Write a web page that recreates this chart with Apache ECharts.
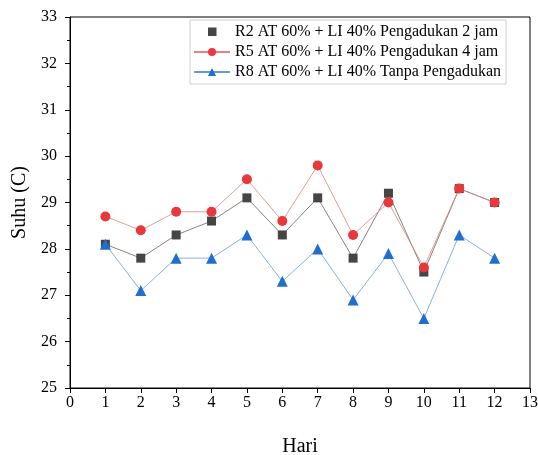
<!DOCTYPE html>
<html>
<head>
<meta charset="utf-8">
<script src="https://cdn.jsdelivr.net/npm/echarts@6/dist/echarts.min.js"></script>
<style>html,body{margin:0;padding:0;background:#fff}#c{width:538px;height:455px}</style>
</head>
<body>
<div id="c"></div>
<script>
const days = [1,2,3,4,5,6,7,8,9,10,11,12];
const r2 = [28.1, 27.8, 28.3, 28.6, 29.1, 28.3, 29.1, 27.8, 29.2, 27.5, 29.3, 29.0];
const r5 = [28.7, 28.4, 28.8, 28.8, 29.5, 28.6, 29.8, 28.3, 29.0, 27.6, 29.3, 29.0];
const r8 = [28.1, 27.1, 27.8, 27.8, 28.3, 27.3, 28.0, 26.9, 27.9, 26.5, 28.3, 27.8];
const names = [
  'R2 AT 60% + LI 40% Pengadukan 2 jam',
  'R5 AT 60% + LI 40% Pengadukan 4 jam',
  'R8 AT 60% + LI 40% Tanpa Pengadukan'
];
const font = '"Liberation Serif","Times New Roman",serif';
const pair = arr => days.map((d,i)=>[d, arr[i]]);

const chart = echarts.init(document.getElementById('c'), null, {renderer:'canvas'});
chart.setOption({
  animation:false,
  backgroundColor:'#fff',
  textStyle:{fontFamily:font},
  grid:{left:70, right:8, top:17, bottom:67, containLabel:false, outerBoundsMode:'none',
        show:true, borderColor:'#000', borderWidth:1, backgroundColor:'transparent'},
  legend:{
    left:190, top:20, orient:'vertical', itemWidth:36, itemHeight:10, itemGap:4,
    backgroundColor:'#fff', borderColor:'#d0d0d0', borderWidth:1,
    padding:[4,5,4,3],
    textStyle:{fontFamily:font, fontSize:16, color:'#000'},
    data:[{name:names[0], icon:'path://M0,0M36,10M14,0.5h8.5v8.5h-8.5z'}, {name:names[1]}, {name:names[2]}]
  },
  xAxis:{
    type:'value', min:0, max:13, interval:1,
    name:'Hari', nameLocation:'middle', nameGap:49,
    nameTextStyle:{fontFamily:font, fontSize:20, color:'#000'},
    axisLine:{show:true, lineStyle:{color:'#000', width:1}},
    axisTick:{show:true, length:5, lineStyle:{color:'#000', width:1}},
    axisLabel:{fontFamily:font, fontSize:16, color:'#000', margin:7},
    splitLine:{show:false}
  },
  yAxis:{
    type:'value', min:25, max:33, interval:1,
    name:'Suhu (C)', nameLocation:'middle', nameGap:35, nameRotate:90,
    nameTextStyle:{fontFamily:font, fontSize:20, color:'#000'},
    axisLine:{show:true, lineStyle:{color:'#000', width:1}},
    axisTick:{show:true, length:5, lineStyle:{color:'#000', width:1}},
    minorTick:{show:true, splitNumber:2, length:3, lineStyle:{color:'#000', width:1}},
    axisLabel:{fontFamily:font, fontSize:16, color:'#000', margin:13},
    splitLine:{show:false}
  },
  series:[
    {name:names[0], type:'line', data:pair(r2), symbol:'rect', symbolSize:9,
     itemStyle:{color:'#454545'}, lineStyle:{color:'#666', width:0.8}},
    {name:names[1], type:'line', data:pair(r5), symbol:'circle', symbolSize:10,
     itemStyle:{color:'#e8383b'}, lineStyle:{color:'#e88080', width:0.8}},
    {name:names[2], type:'line', data:pair(r8), symbol:'triangle', symbolSize:11,
     itemStyle:{color:'#1f6fd1'}, lineStyle:{color:'#6a9bd8', width:0.8}}
  ]
});
</script>
</body>
</html>
